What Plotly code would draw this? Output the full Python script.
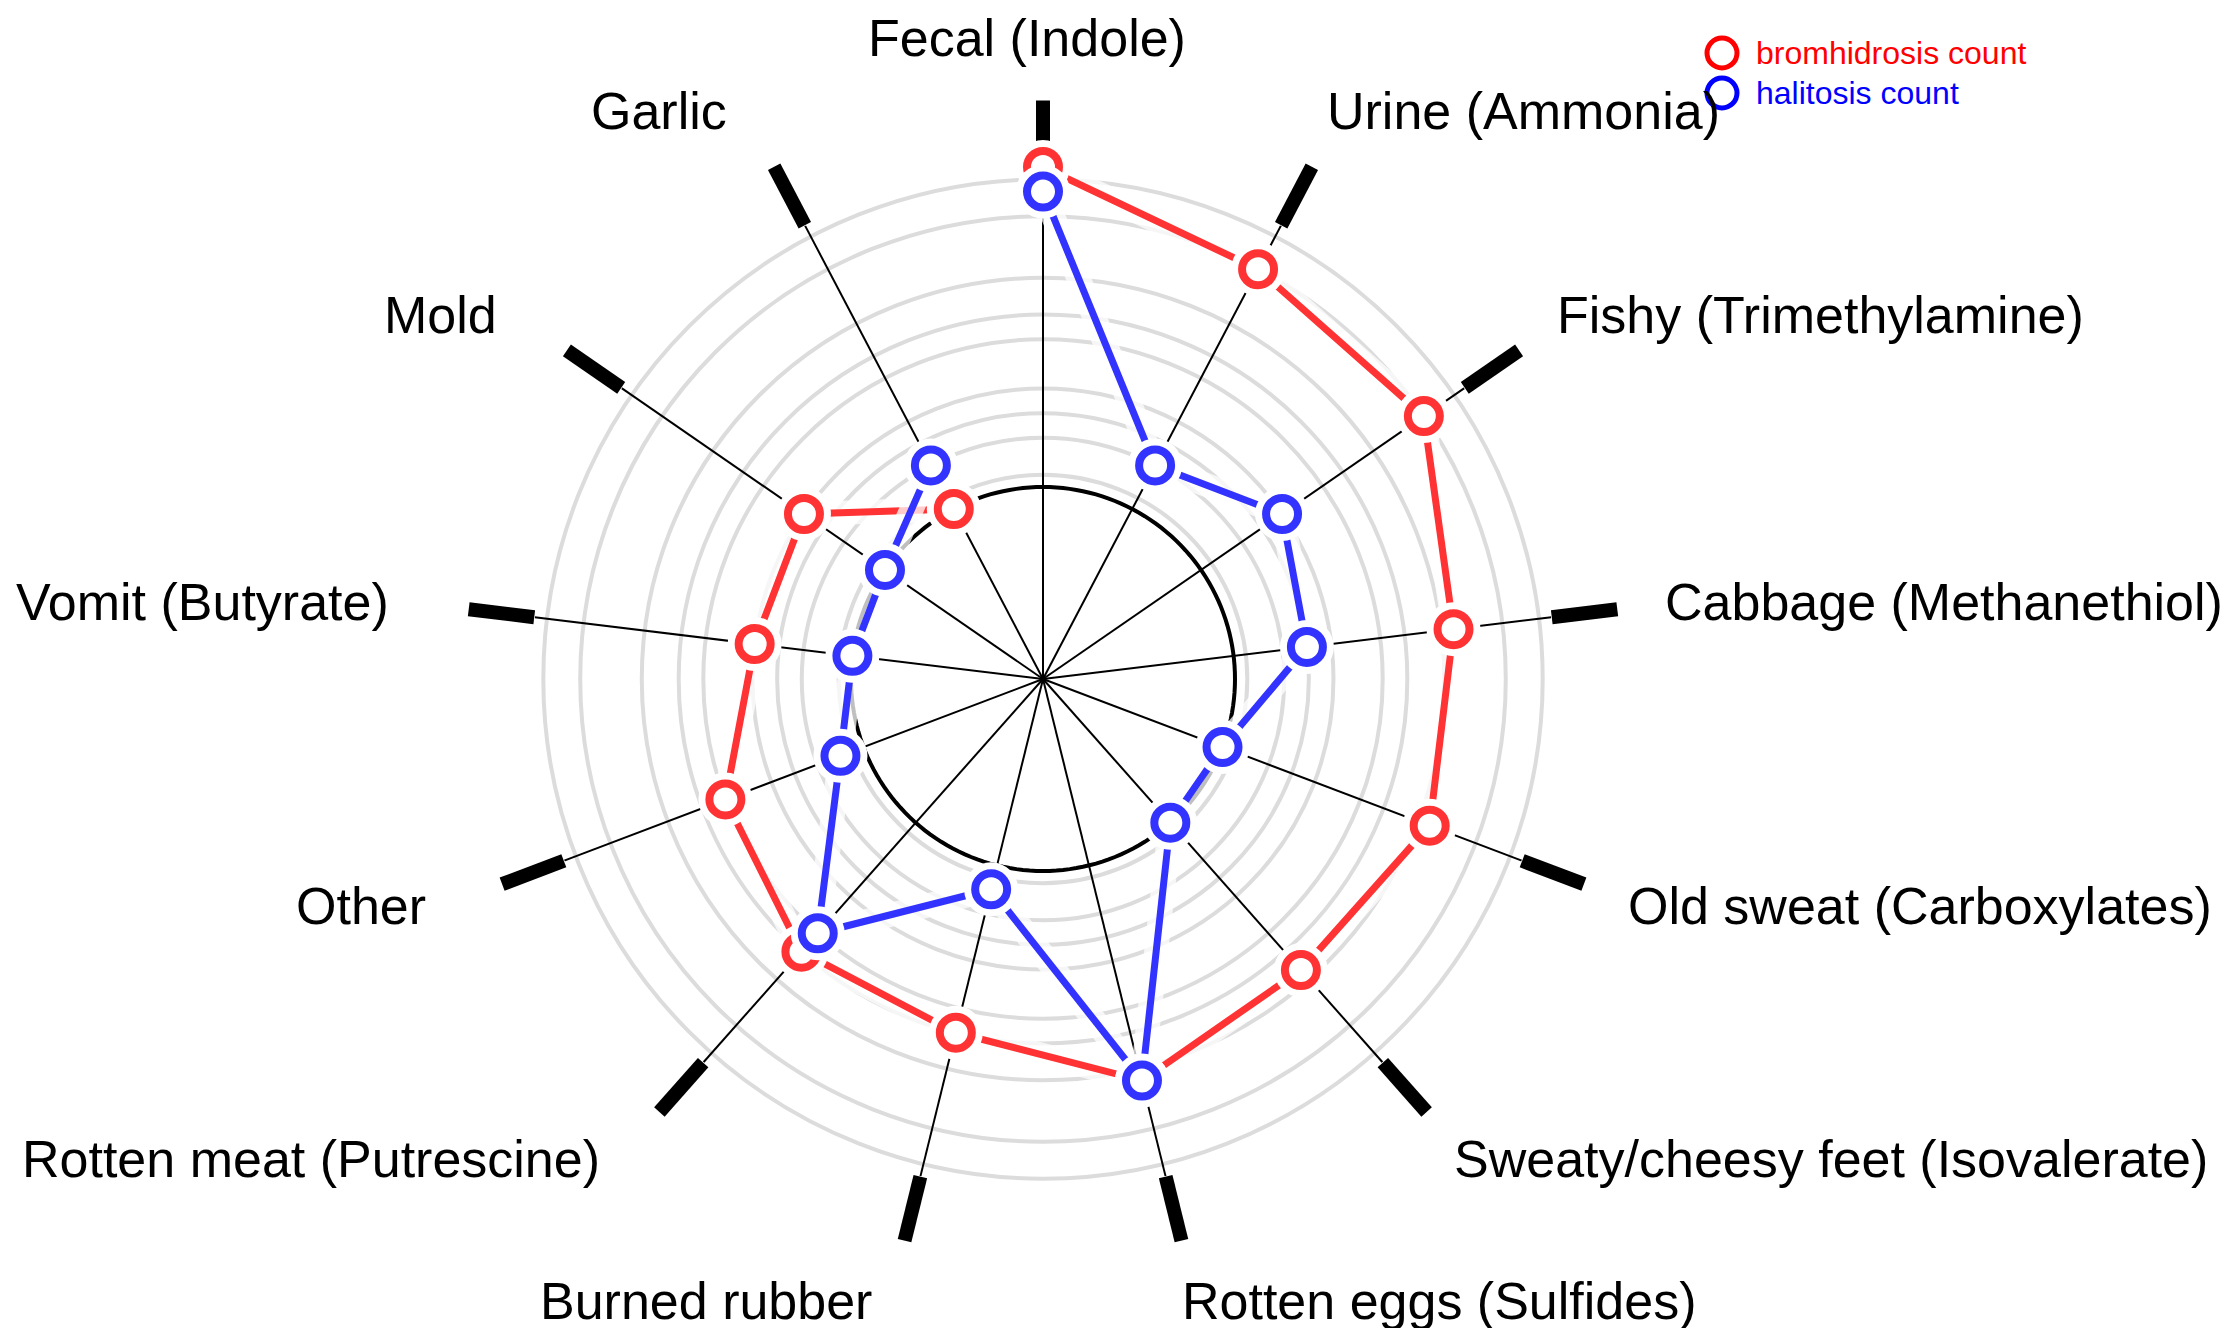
import math
import plotly.graph_objects as go

# ---------------- data ----------------
categories = [
    "Fecal (Indole)", "Urine (Ammonia)", "Fishy (Trimethylamine)",
    "Cabbage (Methanethiol)", "Old sweat (Carboxylates)",
    "Sweaty/cheesy feet (Isovalerate)", "Rotten eggs (Sulfides)",
    "Burned rubber", "Rotten meat (Putrescine)", "Other",
    "Vomit (Butyrate)", "Mold", "Garlic",
]
bromhidrosis_count = [13, 11, 11, 9, 9, 8, 9, 7, 7, 6, 4, 4, 0]
halitosis_count = [12, 2, 4, 3, 0, 0, 9, 1, 6, 1, 0, 0, 2]
radial_grid_values = [0.5, 2, 3, 4, 6, 7, 8.5, 11, 12.5]
series_names = ["bromhidrosis count", "halitosis count"]

# ---------------- layout constants ----------------
W, H = 2229, 1328
OFF = 8                      # default page body margin of the html page
CX, CY, R = 1043 - OFF, 679 - OFF, 512
R_MIN, R_MAX = -7.8, 13
LABEL_R, LABEL_DX = 641, -16
FONT = "Liberation Sans, Arial, sans-serif"

n = len(categories)
angles = [i * 360.0 / n for i in range(n)]

fig = go.Figure()

# spokes (drawn as a trace so that they lie above the grey rings)
spoke_r, spoke_t = [], []
for a in angles:
    spoke_r += [R_MIN, R_MAX, None]
    spoke_t += [a, a, None]
fig.add_trace(go.Scatterpolar(
    r=spoke_r, theta=spoke_t, mode="lines",
    line=dict(color="black", width=2), hoverinfo="skip", showlegend=False,
    connectgaps=False,
))

# baseline circle at r = 0
base_theta = list(range(0, 361, 2))
fig.add_trace(go.Scatterpolar(
    r=[0] * len(base_theta), theta=base_theta, mode="lines",
    line=dict(color="black", width=4), hoverinfo="skip", showlegend=False,
))

styles = [
    dict(line="rgb(255,51,51)", legend="#ff0000"),
    dict(line="rgb(51,51,255)", legend="#0000ff"),
]

for name, vals, st in zip(series_names, [bromhidrosis_count, halitosis_count], styles):
    # white halo around the line
    fig.add_trace(go.Scatterpolar(
        r=vals, theta=angles, mode="lines",
        line=dict(color="rgba(255,255,255,0.75)", width=24),
        hoverinfo="skip", showlegend=False, cliponaxis=False,
    ))
    # coloured line
    fig.add_trace(go.Scatterpolar(
        r=vals, theta=angles, mode="lines",
        line=dict(color=st["line"], width=7),
        name=name, showlegend=False, cliponaxis=False,
    ))
    # white halo around markers
    fig.add_trace(go.Scatterpolar(
        r=vals, theta=angles, mode="markers",
        marker=dict(size=54, color="white", line=dict(width=0)),
        hoverinfo="skip", showlegend=False, cliponaxis=False,
    ))
    # ring markers
    fig.add_trace(go.Scatterpolar(
        r=vals, theta=angles, mode="markers",
        marker=dict(size=32, color="white", line=dict(color=st["line"], width=8)),
        name=name, text=categories, showlegend=False, cliponaxis=False,
    ))

M_T = CY - R
M_B = H - (CY + R)
PLOT_H = H - M_T - M_B
half = 540 / W


def px(x):
    return x / W


def py(y):
    return (H - M_B - y) / PLOT_H


fig.update_layout(
    width=W, height=H,
    paper_bgcolor="white",
    margin=dict(l=0, r=0, t=M_T, b=M_B, pad=0),
    showlegend=False,
    polar=dict(
        domain=dict(x=[CX / W - half, CX / W + half], y=[0, 1]),
        bgcolor="white",
        angularaxis=dict(
            type="linear", thetaunit="degrees",
            direction="clockwise", rotation=90,
            tickmode="array", tickvals=angles, ticktext=categories,
            showticklabels=False,
            ticks="outside", ticklen=66, tickwidth=14, tickcolor="black",
            showline=False, showgrid=False,
            layer="below traces",
        ),
        radialaxis=dict(
            range=[R_MIN, R_MAX],
            tickmode="array", tickvals=radial_grid_values,
            showticklabels=False, ticks="", showline=False,
            showgrid=True, gridcolor="#dcdcdc", gridwidth=4,
            layer="below traces",
        ),
    ),
)

annotations = []
# category labels around the circle
for cat, a in zip(categories, angles):
    rad = math.radians(a)
    s, c = math.sin(rad), math.cos(rad)
    lx = CX + LABEL_DX + LABEL_R * s
    ly = CY - LABEL_R * c
    anchor = "center" if abs(s) < 0.05 else ("left" if s > 0 else "right")
    annotations.append(dict(
        text=cat, xref="paper", yref="paper", x=px(lx), y=py(ly),
        xanchor=anchor, yanchor="middle", showarrow=False,
        font=dict(family=FONT, size=52, color="black"),
    ))

# custom legend (rings + coloured text)
legend_rows = [53 - OFF, 93 - OFF]
shapes = []
for name, st, yy in zip(series_names, styles, legend_rows):
    shapes.append(dict(
        type="circle", xref="paper", yref="paper",
        xsizemode="pixel", ysizemode="pixel",
        xanchor=px(1722 - OFF), yanchor=py(yy),
        x0=-15, x1=15, y0=-15, y1=15,
        line=dict(color=st["legend"], width=5), fillcolor="white", layer="above",
    ))
    annotations.append(dict(
        text=name, xref="paper", yref="paper", x=px(1754 - OFF), y=py(yy),
        xanchor="left", yanchor="middle", showarrow=False,
        font=dict(family=FONT, size=32, color=st["legend"]),
    ))
fig.update_layout(shapes=shapes, annotations=annotations)

fig.write_html("out.html")
